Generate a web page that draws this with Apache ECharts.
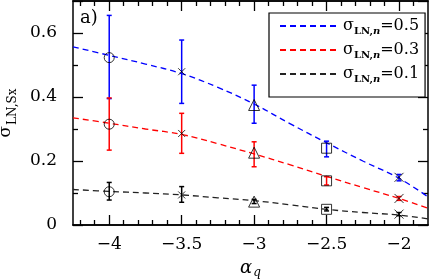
<!DOCTYPE html>
<html><head><meta charset="utf-8">
<script src="https://cdn.jsdelivr.net/npm/echarts@6/dist/echarts.min.js"></script>
<style>html,body{margin:0;padding:0;background:#fff}#c{width:436px;height:279px}</style>
</head><body><div id="c"></div>
<script>
const xPos = [-4, -3.5, -3, -2.5, -2];
const markerKinds = ['circle', 'x', 'triangle', 'square', 'X'];
const blueVal = [0.523, 0.479, 0.375, 0.240, 0.149];
const blueLo  = [0.395, 0.380, 0.318, 0.213, 0.138];
const blueHi  = [0.655, 0.578, 0.437, 0.262, 0.158];
const redVal  = [0.315, 0.286, 0.226, 0.138, 0.083];
const redLo   = [0.234, 0.224, 0.182, 0.125, 0.077];
const redHi   = [0.397, 0.349, 0.260, 0.151, 0.089];
const blackVal = [0.104, 0.094, 0.073, 0.049, 0.034];
const blackLo  = [0.078, 0.071, 0.067, 0.044, 0.029];
const blackHi  = [0.133, 0.120, 0.080, 0.055, 0.039];
const fitX = [-4.25, -4, -3.75, -3.5, -3.25, -3, -2.75, -2.5, -2.25, -2, -1.8];
const blueFit  = [0.557, 0.530, 0.503, 0.473, 0.430, 0.378, 0.316, 0.257, 0.200, 0.146, 0.088];
const redFit   = [0.335, 0.318, 0.300, 0.283, 0.254, 0.222, 0.188, 0.152, 0.117, 0.083, 0.052];
const blackFit = [0.111, 0.105, 0.100, 0.094, 0.085, 0.076, 0.063, 0.049, 0.039, 0.031, 0.019];
const xMajorTicks = [-4, -3.5, -3, -2.5, -2];
const xMinorTicks = [-4.2, -4.1, -3.9, -3.8, -3.7, -3.6, -3.4, -3.3, -3.2, -3.1, -2.9, -2.8, -2.7, -2.6, -2.4, -2.3, -2.2, -2.1, -1.9];
const xTickLabels = ['\u22124', '\u22123.5', '\u22123', '\u22122.5', '\u22122'];
const yTickLabels = { 0: '0', 0.2: '0.2', 0.4: '0.4', 0.6: '0.6' };
const legendNames = ['0.5', '0.3', '0.1'];

const FONT = 'DejaVu Serif';
const BLUE = '#0000ff', RED = '#ff0000', BLACK = '#000000';
const symbolMap = {
  circle: 'circle',
  triangle: 'triangle',
  square: 'rect',
  x: 'path://M0,0L10,10M10,0L0,10',
  X: 'path://M0,0L10,10M10,0L0,10'
};
const symbolSizeMap = { circle: 10, triangle: 11, square: 10, x: 7, X: 9 };

function pairs(xs, ys) { return xs.map((x, i) => [x, ys[i]]); }

function errSeries(vals, lo, hi, color) {
  return {
    type: 'custom', xAxisIndex: 0, yAxisIndex: 0, z: 3,
    data: xPos.map((x, i) => [x, lo[i], hi[i]]),
    encode: { x: 0, y: [1, 2] },
    renderItem: function (params, api) {
      const x = api.value(0);
      const a = api.coord([x, api.value(1)]);
      const b = api.coord([x, api.value(2)]);
      const s = { stroke: color, lineWidth: 1.5 };
      const w = 2.5;
      return { type: 'group', children: [
        { type: 'line', shape: { x1: a[0], y1: a[1], x2: b[0], y2: b[1] }, style: s },
        { type: 'line', shape: { x1: a[0] - w, y1: a[1], x2: a[0] + w, y2: a[1] }, style: s },
        { type: 'line', shape: { x1: b[0] - w, y1: b[1], x2: b[0] + w, y2: b[1] }, style: s }
      ] };
    }
  };
}
function markerSeries(vals) {
  return {
    type: 'scatter', xAxisIndex: 0, yAxisIndex: 0, z: 4, silent: true,
    data: xPos.map((x, i) => ({
      value: [x, vals[i]],
      symbol: symbolMap[markerKinds[i]],
      symbolSize: symbolSizeMap[markerKinds[i]]
    })),
    itemStyle: { color: 'rgba(0,0,0,0)', borderColor: BLACK, borderWidth: 1 }
  };
}
function fitSeries(name, ys, color) {
  return {
    name: name, type: 'line', xAxisIndex: 0, yAxisIndex: 0, z: 2,
    data: pairs(fitX, ys), smooth: 0.4, symbol: 'none',
    lineStyle: { color: color, width: 1.3, type: [6, 4] },
    itemStyle: { color: color }
  };
}

const baseX = {
  type: 'value', min: -4.25, max: -1.8, gridIndex: 0,
  axisLine: { show: true, onZero: false, lineStyle: { color: '#000', width: 1.5 } },
  splitLine: { show: false },
  axisLabel: { show: false }
};
const xAxes = [
  Object.assign({}, baseX, {
    position: 'bottom',
    axisTick: { inside: true, length: 10, customValues: xMajorTicks, lineStyle: { color: '#000', width: 1.3 } },
    axisLabel: { show: true, customValues: xMajorTicks, margin: 11,
      formatter: v => xTickLabels[xMajorTicks.indexOf(v)] || '',
      fontFamily: FONT, fontSize: 17, color: '#000' },
    name: '{a|\u03b1}{s|q}', nameLocation: 'middle', nameGap: 17,
    nameTextStyle: { rich: {
      a: { fontFamily: FONT, fontStyle: 'italic', fontSize: 18, color: '#000', lineHeight: 20 },
      s: { fontFamily: FONT, fontStyle: 'italic', fontSize: 12, color: '#000', lineHeight: 20, padding: [9, 0, 0, 1] }
    } }
  }),
  Object.assign({}, baseX, { position: 'top',
    axisTick: { inside: true, length: 10, customValues: xMajorTicks, lineStyle: { color: '#000', width: 1.3 } } }),
  Object.assign({}, baseX, { position: 'bottom',
    axisTick: { inside: true, length: 5, customValues: xMinorTicks, lineStyle: { color: '#000', width: 1.3 } } }),
  Object.assign({}, baseX, { position: 'top',
    axisTick: { inside: true, length: 5, customValues: xMinorTicks, lineStyle: { color: '#000', width: 1.3 } } })
];
const baseY = {
  type: 'value', min: 0, max: 0.7, interval: 0.2, gridIndex: 0,
  axisLine: { show: true, onZero: false, lineStyle: { color: '#000', width: 1.5 } },
  splitLine: { show: false },
  axisTick: { inside: true, length: 10, lineStyle: { color: '#000', width: 1.3 } },
  minorTick: { show: true, splitNumber: 2, length: 5, lineStyle: { color: '#000', width: 1.3 } },
  minorSplitLine: { show: false }
};
const yAxes = [
  Object.assign({}, baseY, { position: 'left',
    axisLabel: { show: true, margin: 16, fontFamily: FONT, fontSize: 17, color: '#000', showMaxLabel: false,
      formatter: v => yTickLabels[Math.round(v * 10) / 10] || '' },
    name: '{a|\u03c3}{s|LN,Sx}', nameLocation: 'middle', nameGap: 48, nameRotate: 90,
    nameTextStyle: { rich: {
      a: { fontFamily: FONT, fontSize: 17, color: '#000', lineHeight: 22 },
      s: { fontFamily: FONT, fontSize: 12, color: '#000', lineHeight: 22, padding: [14, 0, 0, 1] }
    } }
  }),
  Object.assign({}, baseY, { position: 'right', axisLabel: { show: false } })
];

const chart = echarts.init(document.getElementById('c'), null, { renderer: 'canvas' });
chart.setOption({
  animation: false,
  backgroundColor: '#fff',
  grid: { left: 73, right: 8, top: 1, bottom: 54, containLabel: false, outerBoundsMode: 'none' },
  xAxis: xAxes,
  yAxis: yAxes,
  legend: {
    data: legendNames, orient: 'vertical', left: 269, top: 13,
    itemWidth: 58, itemHeight: 10, itemGap: 4,
    padding: [3, 6, 13, 10],
    borderColor: '#000', borderWidth: 1.2, backgroundColor: '#fff',
    itemStyle: { opacity: 0 },
    formatter: n => '{a|\u03c3}{s|LN,}{n|n}{v|=' + n + '}',
    textStyle: { rich: {
      a: { fontFamily: FONT, fontSize: 16, color: '#000', lineHeight: 20 },
      s: { fontFamily: FONT, fontWeight: 'bold', fontSize: 10, color: '#000', lineHeight: 20, padding: [10, 0, 0, 0] },
      n: { fontFamily: FONT, fontWeight: 'bold', fontStyle: 'italic', fontSize: 10, color: '#000', lineHeight: 20, padding: [10, 0, 0, 0] },
      v: { fontFamily: FONT, fontSize: 16, color: '#000', lineHeight: 20 }
    } }
  },
  graphic: [{ type: 'text', left: 80, top: 9, style: { text: 'a)', fontFamily: FONT, fontSize: 18, fill: '#000' } }],
  series: [
    fitSeries(legendNames[0], blueFit, BLUE),
    fitSeries(legendNames[1], redFit, RED),
    fitSeries(legendNames[2], blackFit, '#222'),
    errSeries(blueVal, blueLo, blueHi, BLUE),
    errSeries(redVal, redLo, redHi, RED),
    errSeries(blackVal, blackLo, blackHi, BLACK),
    markerSeries(blueVal),
    markerSeries(redVal),
    markerSeries(blackVal)
  ]
});
</script></body></html>
